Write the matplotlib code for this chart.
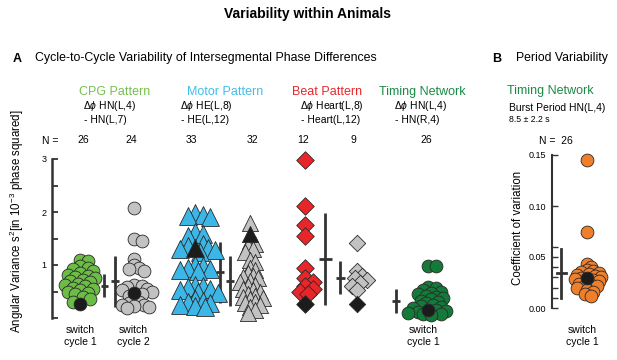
import numpy as np
import matplotlib
matplotlib.use('Agg')
from matplotlib import pyplot as plt

plt.rcParams['font.family'] = ['Liberation Sans', 'DejaVu Sans']
plt.rcParams['mathtext.fontset'] = 'custom'
plt.rcParams['mathtext.rm'] = 'Liberation Sans'
plt.rcParams['mathtext.it'] = 'Liberation Sans:italic'

# ---- data ----
cpg_sw1 = [1.10, 1.08, 0.98, 0.95, 0.92, 0.88, 0.85, 0.82, 0.80, 0.78, 0.75, 0.72, 0.70,
           0.68, 0.65, 0.62, 0.60, 0.57, 0.55, 0.52, 0.50, 0.47, 0.45, 0.40, 0.35, 0.30]
cpg_sw2 = [2.08, 1.50, 1.46, 1.12, 1.00, 0.95, 0.92, 0.88, 0.62, 0.60, 0.58, 0.55,
           0.53, 0.50, 0.45, 0.42, 0.35, 0.30, 0.28, 0.25, 0.24, 0.22, 0.20, 0.18]
motor_sw1 = [1.98, 1.95, 1.92, 1.90, 1.62, 1.58, 1.55, 1.40, 1.35, 1.32, 1.30, 1.28, 1.25,
             1.00, 0.98, 0.95, 0.92, 0.90, 0.88, 0.62, 0.60, 0.58, 0.55, 0.53, 0.50, 0.48,
             0.35, 0.32, 0.30, 0.28, 0.25, 0.22, 0.20]
motor_sw2 = [1.80, 1.45, 1.40, 1.35, 1.30, 1.25, 1.10, 1.05, 0.95, 0.90, 0.85, 0.80, 0.78,
             0.75, 0.70, 0.68, 0.62, 0.60, 0.55, 0.52, 0.50, 0.45, 0.42, 0.40, 0.38, 0.35,
             0.30, 0.28, 0.25, 0.20, 0.15, 0.10]
beat_sw1 = [2.99, 2.11, 1.75, 1.54, 0.95, 0.75, 0.68, 0.60, 0.55, 0.50, 0.45]
beat_sw2 = [1.41, 0.88, 0.80, 0.76, 0.72, 0.66, 0.60, 0.53]
timing_sw1 = [0.99, 0.98, 0.58, 0.56, 0.52, 0.50, 0.48, 0.45, 0.42, 0.40, 0.38, 0.35, 0.33,
              0.30, 0.28, 0.25, 0.22, 0.20, 0.18, 0.15, 0.13, 0.12, 0.10, 0.08, 0.07, 0.05]
period_cv = [0.145, 0.075, 0.043, 0.040, 0.037, 0.036, 0.035, 0.034, 0.033, 0.032, 0.031,
             0.030, 0.029, 0.028, 0.027, 0.026, 0.025, 0.024, 0.023, 0.022, 0.021, 0.020,
             0.018, 0.016, 0.014, 0.012]

# highlighted animal (black marker) in each group
highlight = [0.27, 0.48, 1.33, 1.58, 0.27, 0.27, 0.15]
highlight_cv = 0.029

group_n = ['26', '24', '33', '32', '12', '9', '26']
means = [0.61, 0.69, 0.86, 0.70, 1.12, 0.76, 0.32]
sds = [0.22, 0.475, 0.57, 0.475, 0.87, 0.315, 0.225]
cv_mean, cv_sd = 0.034, 0.024

# ---- layout (pixel units of the 617x360 canvas) ----
W, H = 617, 360
A_LEFT, A_RIGHT, A_BOT, A_TOP = 52, 460, 318, 159
B_LEFT, B_RIGHT, B_BOT, B_TOP = 552, 617, 308, 155

grp_x = [80, 134, 195, 250, 305, 357, 428]
bar_x = [104, 115, 220, 230, 325, 340, 396]
cap_w = [7, 8, 8, 8, 13, 9, 8]

LIGHTGREEN = '#6cbd45'
BLUE = '#3cb6e6'
RED = '#e8262a'
DKGREEN = '#137a3a'
GRAY = '#c2c2c2'
ORANGE = '#ef7f2a'
BLACK = '#1c1c1c'
EDGE = '#2a2a2a'
AXC = '#333333'

styles = [('o', LIGHTGREEN, 85), ('o', GRAY, 85), ('^', BLUE, 165), ('^', GRAY, 135),
          ('D', RED, 80), ('D', GRAY, 70), ('o', DKGREEN, 85)]
groups = [cpg_sw1, cpg_sw2, motor_sw1, motor_sw2, beat_sw1, beat_sw2, timing_sw1]
min_dist = [6, 5.5, 6.5, 5.5, 6.5, 6, 5.5]


def swarm(vals, center, px_per_unit, mind, step=2.5):
    """place points around center so they overlap only partly (pixel units)"""
    placed = []
    xs = []
    for v in vals:
        y = v * px_per_unit
        k = 0
        while True:
            off = ((k + 1) // 2) * step * (1 if k % 2 else -1)
            x = center + off
            if all((x - px) ** 2 + (y - py) ** 2 >= mind ** 2 for px, py in placed):
                break
            k += 1
        placed.append((x, y))
        xs.append(x)
    return xs


def fx(x):
    return x / W


def fy(y):
    return 1 - y / H


fig = plt.figure(figsize=(W / 100, H / 100), dpi=100)

# ---- panel A ----
axA = fig.add_axes([fx(A_LEFT), fy(A_BOT), (A_RIGHT - A_LEFT) / W, (A_BOT - A_TOP) / H])
axA.set_xlim(A_LEFT, A_RIGHT)
axA.set_ylim(0, 3)
pxuA = (A_BOT - A_TOP) / 3.0

for i, vals in enumerate(groups):
    marker, col, s = styles[i]
    # highlighted animal placed first so it sits near the middle of the swarm
    allv = [highlight[i]] + sorted(vals, reverse=True)
    xs = swarm(allv, grp_x[i], pxuA, min_dist[i])
    for j, (x, v) in enumerate(zip(xs, allv)):
        c = BLACK if j == 0 else col
        axA.scatter(x, v, s=s, marker=marker, facecolor=c, edgecolor=EDGE,
                    linewidth=0.6, zorder=3 + (10 if j == 0 else 0), clip_on=False)
    # mean +- sd bar
    axA.plot([bar_x[i], bar_x[i]], [max(means[i] - sds[i], 0.02), means[i] + sds[i]],
             color=AXC, lw=2, solid_capstyle='butt', zorder=2)
    axA.plot([bar_x[i] - cap_w[i] / 2, bar_x[i] + cap_w[i] / 2], [means[i], means[i]],
             color=AXC, lw=2, solid_capstyle='butt', zorder=2)

for sp in ['top', 'right', 'bottom']:
    axA.spines[sp].set_visible(False)
axA.spines['left'].set_bounds(0, 3)
axA.spines['left'].set_linewidth(1.8)
axA.spines['left'].set_color(AXC)
axA.set_xticks([])
axA.set_yticks([0, 1, 2, 3])
axA.set_yticklabels(['', '1', '2', '3'])
axA.set_yticks([0.5, 1.5, 2.5], minor=True)
axA.tick_params(axis='y', which='both', direction='in', length=4, width=1.3,
                color=AXC, labelsize=6.5, pad=4)

# ---- panel B ----
axB = fig.add_axes([fx(B_LEFT), fy(B_BOT), (B_RIGHT - B_LEFT) / W, (B_BOT - B_TOP) / H])
axB.set_xlim(B_LEFT, B_RIGHT)
axB.set_ylim(0, 0.15)
pxuB = (B_BOT - B_TOP) / 0.15
allv = [highlight_cv] + sorted(period_cv, reverse=True)
xs = swarm(allv, 587, pxuB, 4.5, step=2)
for j, (x, v) in enumerate(zip(xs, allv)):
    c = BLACK if j == 0 else ORANGE
    axB.scatter(x, v, s=85, marker='o', facecolor=c, edgecolor=EDGE, linewidth=0.6,
                zorder=3 + (10 if j == 0 else 0), clip_on=False)
axB.plot([561, 561], [cv_mean - cv_sd, cv_mean + cv_sd], color=AXC, lw=2, zorder=2)
axB.plot([556.5, 565.5], [cv_mean, cv_mean], color=AXC, lw=2, zorder=2)
for sp in ['top', 'right', 'bottom']:
    axB.spines[sp].set_visible(False)
axB.spines['left'].set_bounds(0, 0.15)
axB.spines['left'].set_linewidth(1.5)
axB.spines['left'].set_color(AXC)
axB.set_xticks([])
axB.set_yticks([0, 0.05, 0.10, 0.15])
axB.set_yticklabels(['0.00', '0.05', '0.10', '0.15'])
axB.set_yticks([0.01, 0.02, 0.03, 0.04, 0.06], minor=True)
axB.tick_params(axis='y', which='both', direction='in', length=4, width=1.0,
                color=AXC, labelsize=6.5, pad=4)

# ---- texts ----
def t(x, y, s, **kw):
    fig.text(fx(x), fy(y), s, **kw)

t(308, 14, 'Variability within Animals', fontsize=10, fontweight='bold', ha='center', va='center')
t(17, 59, 'A', fontsize=9, fontweight='bold', ha='center', va='center')
t(35, 58, 'Cycle-to-Cycle Variability of Intersegmental Phase Differences', fontsize=8.9, va='center')
t(497, 59, 'B', fontsize=9, fontweight='bold', ha='center', va='center')
t(516, 58, 'Period Variability', fontsize=8.8, va='center')

t(115, 92, 'CPG Pattern', fontsize=9, color='#76c04f', ha='center', va='center')
t(225, 92, 'Motor Pattern', fontsize=9, color='#45bde9', ha='center', va='center')
t(327, 92, 'Beat Pattern', fontsize=9, color=RED, ha='center', va='center')
t(422, 92, 'Timing Network', fontsize=9, color='#1b8a46', ha='center', va='center')
t(550, 91, 'Timing Network', fontsize=9, color='#1b8a46', ha='center', va='center')

dphi = r'$\mathit{\Delta\phi}$ '
subs = [(83, 'HN(L,4)', 'HN(L,7)'), (180, 'HE(L,8)', 'HE(L,12)'),
        (300, 'Heart(L,8)', 'Heart(L,12)'), (394, 'HN(L,4)', 'HN(R,4)')]
for x, a, b in subs:
    t(x, 106, dphi + a, fontsize=7.5, va='center')
    t(x + 1, 120, '- ' + b, fontsize=7.5, va='center')

t(509, 108, 'Burst Period HN(L,4)', fontsize=7.5, va='center')
t(509, 120, '8.5 ± 2.2 s', fontsize=6.3, va='center')

t(50, 141, 'N =', fontsize=7.5, ha='center', va='center')
n_x = [83, 131, 191, 252, 303, 353, 426]
for x, n in zip(n_x, group_n):
    t(x, 140, n, fontsize=7.5, ha='center', va='center')
t(556, 141, 'N =  26', fontsize=7.5, ha='center', va='center')

for x in [80, 423, 582]:
    t(x, 336, 'switch\ncycle 1', fontsize=7.5, ha='center', va='center', linespacing=1.25)
t(133, 336, 'switch\ncycle 2', fontsize=7.5, ha='center', va='center', linespacing=1.25)

t(17, 221, r'Angular Variance s$^2$[in 10$^{-3}$ phase squared]', fontsize=8.3,
  rotation=90, ha='center', va='center')
t(518, 228, 'Coefficient of variation', fontsize=8.3, rotation=90, ha='center', va='center')

fig.savefig('out.png', dpi=100)
